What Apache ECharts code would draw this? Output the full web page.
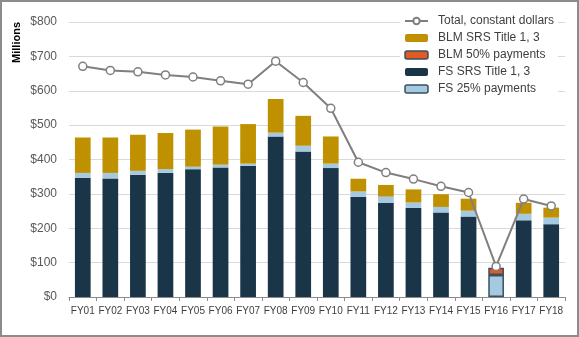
<!DOCTYPE html>
<html>
<head>
<meta charset="utf-8">
<script src="https://cdn.jsdelivr.net/npm/echarts@6/dist/echarts.min.js"></script>
<style>
html,body{margin:0;padding:0;background:#fff;}
#c{width:579px;height:337px;}
</style>
</head>
<body>
<div id="c"></div>
<script>
const categories = ['FY01','FY02','FY03','FY04','FY05','FY06','FY07','FY08','FY09','FY10','FY11','FY12','FY13','FY14','FY15','FY16','FY17','FY18'];
const fsSrs   = [347,345,356,361,372,377,382,467,423,375,291,274,259,246,234,0,223,212];
const fs25    = [14,16,11,11,7,8,6,11,17,13,16,18,16,16,17,64,19,19];
const blm50   = [0,0,0,0,0,0,0,0,0,0,0,0,0,0,0,21,0,0];
const blmSrs  = [103,103,105,105,108,111,115,98,87,79,37,34,38,37,35,0,32,29];
const totalConst = [671,659,655,646,640,629,619,686,624,549,392,362,343,322,304,89,285,265];
const yTicks = [0,100,200,300,400,500,600,700,800];

const borderStyle = {borderColor:'#3b4f60', borderWidth:1.5};
function withFY16Border(arr){
  return arr.map((v,i)=> categories[i]==='FY16' ? {value:v, itemStyle:borderStyle} : v);
}

const chart = echarts.init(document.getElementById('c'));
const font = 'Liberation Sans, Arial, sans-serif';
chart.setOption({
  animation:false,
  textStyle:{fontFamily:font},
  grid:{left:69,right:14,top:22,bottom:40,containLabel:false},
  legend:{
    orient:'vertical', left:400, top:13,
    itemWidth:23, itemHeight:8, itemGap:5,
    backgroundColor:'#fff', padding:[2,4,2,4],
    textStyle:{fontFamily:font,fontSize:12,color:'#404040',lineHeight:12,padding:[0,0,0,5]},
    data:[
      {name:'Total, constant dollars'},
      {name:'BLM SRS Title 1, 3'},
      {name:'BLM 50% payments', itemStyle:borderStyle},
      {name:'FS SRS Title 1, 3'},
      {name:'FS 25% payments', itemStyle:borderStyle}
    ]
  },
  graphic:[
    {type:'text', left:11, top:22, rotation:Math.PI/2,
      style:{text:'Millions', font:'bold 11px Liberation Sans, Arial, sans-serif', fill:'#000'}},
    {type:'rect', shape:{x:1,y:1,width:577,height:335}, style:{fill:'none',stroke:'#8c8c8c',lineWidth:2}, silent:true}
  ],
  xAxis:{
    type:'category', data:categories, boundaryGap:true,
    axisLine:{lineStyle:{color:'#8c8c8c',width:1}},
    axisTick:{show:true,alignWithLabel:false,length:4,lineStyle:{color:'#8c8c8c'}},
    axisLabel:{fontFamily:font,fontSize:10,color:'#404040',margin:9,interval:0}
  },
  yAxis:{
    type:'value', min:yTicks[0], max:yTicks[yTicks.length-1], interval:yTicks[1]-yTicks[0],
    axisLine:{show:false}, axisTick:{show:false},
    splitLine:{lineStyle:{color:'#d9d9d9',width:1}},
    axisLabel:{fontFamily:font,fontSize:12,color:'#595959',margin:12,formatter:v=>'$'+v}
  },
  series:[
    {name:'FS SRS Title 1, 3', type:'bar', stack:'s', barWidth:'57%', data:fsSrs, itemStyle:{color:'#1b3548'}},
    {name:'FS 25% payments', type:'bar', stack:'s', data:withFY16Border(fs25), itemStyle:{color:'#a6c9e2'}},
    {name:'BLM 50% payments', type:'bar', stack:'s', data:withFY16Border(blm50), itemStyle:{color:'#e05a23'}},
    {name:'BLM SRS Title 1, 3', type:'bar', stack:'s', data:blmSrs, itemStyle:{color:'#bf9000'}},
    {name:'Total, constant dollars', type:'line', data:totalConst, symbol:'circle', symbolSize:8, z:5,
      lineStyle:{color:'#7f7f7f',width:2},
      itemStyle:{color:'#fff',borderColor:'#7f7f7f',borderWidth:1.5}}
  ]
});
</script>
</body>
</html>
